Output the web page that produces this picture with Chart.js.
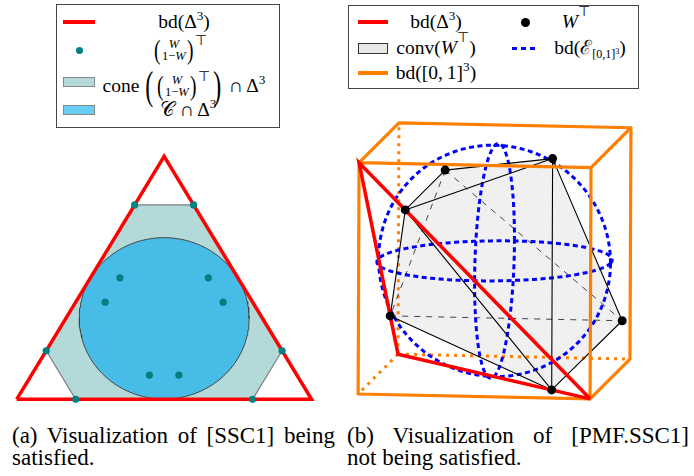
<!DOCTYPE html>
<html>
<head>
<meta charset="utf-8">
<script src="https://cdn.jsdelivr.net/npm/chart.js@4.4.1/dist/chart.umd.min.js"></script>
<style>
  body { margin: 0; width: 694px; height: 476px; background: #fff; position: relative; overflow: hidden;
         font-family: "Liberation Serif", "Times New Roman", serif; color: #000; }
  canvas { position: absolute; }
  #leftChart { left: 0; top: 130px; }
  #rightChart { left: 340px; top: 95px; }
  .box { position: absolute; border: 1px solid #444; box-sizing: border-box; }
  .sw { position: absolute; box-sizing: border-box; }
  .dot { position: absolute; border-radius: 50%; }
  .lbl { position: absolute; transform: translate(-50%, -50%); white-space: nowrap; font-size: 19.5px; line-height: 1;
         display: inline-flex; align-items: center; }
  .lbl sup { font-size: 0.68em; position: relative; top: -0.45em; vertical-align: baseline; line-height: 0; }
  .mat { display: inline-flex; align-items: center; }
  .par { font-size: 28px; line-height: 1; display: inline-block; transform: scaleX(0.7); }
  .bigpar { font-size: 40px; line-height: 1; display: inline-block; transform: scaleX(0.6); }
  .stk { display: inline-flex; flex-direction: column; align-items: center; font-size: 12.5px; line-height: 12px; }
  .T { font-size: 14px; align-self: flex-start; margin-top: -3px; font-family: "DejaVu Sans", sans-serif; }
  .cap { position: absolute; font-size: 23px; line-height: 23px; white-space: nowrap; }
  .just { text-align: justify; text-align-last: justify; }
</style>
</head>
<body>
<canvas id="leftChart" width="340" height="285"></canvas>
<canvas id="rightChart" width="354" height="320"></canvas>

<!-- legend (a) -->
<div class="box" style="left:56px;top:4px;width:224px;height:124px"></div>
<div class="sw" style="left:63px;top:20px;width:32px;height:4px;background:#ff0000"></div>
<div class="lbl" style="left:184px;top:22px">bd(Δ<sup>3</sup>)</div>
<div class="dot" style="left:75.5px;top:46.5px;width:7px;height:7px;background:#008080"></div>
<div class="lbl" style="left:180px;top:50px"><span class="mat"><span class="par">(</span><span class="stk"><i>W</i><span>1−<i>W</i></span></span><span class="par">)</span><span class="T">⊤</span></span></div>
<div class="sw" style="left:63px;top:77px;width:32px;height:10px;background:#b3d9d9;border:1px solid #888"></div>
<div class="lbl" style="left:184px;top:86px">cone<span class="bigpar" style="margin-left:3px">(</span><span class="mat"><span class="par">(</span><span class="stk"><i>W</i><span>1−<i>W</i></span></span><span class="par">)</span><span class="T">⊤</span></span><span class="bigpar">)</span>&nbsp;∩ Δ<sup>3</sup></div>
<div class="sw" style="left:63px;top:105px;width:32px;height:10px;background:#66cdf5;border:1px solid #888"></div>
<div class="lbl" style="left:188px;top:110px">𝒞 ∩ Δ<sup>3</sup></div>

<!-- legend (b) -->
<div class="box" style="left:348px;top:5px;width:291px;height:84px"></div>
<div class="sw" style="left:358px;top:20px;width:30px;height:4px;background:#ff0000"></div>
<div class="lbl" style="left:436px;top:22px">bd(Δ<sup>3</sup>)</div>
<div class="dot" style="left:520.5px;top:17.5px;width:9px;height:9px;background:#000"></div>
<div class="lbl" style="left:576px;top:22px"><i>W</i><span class="T" style="margin-top:-8px">⊤</span></div>
<div class="sw" style="left:358px;top:43px;width:30px;height:11px;background:#e8e8e8;border:1px solid #333"></div>
<div class="lbl" style="left:436px;top:48px">conv(<i>W</i><span class="T" style="margin-top:-8px">⊤</span>)</div>
<div class="sw" style="left:512px;top:46.5px;width:27px;height:3px;background:repeating-linear-gradient(90deg,#0000ff 0 5px,transparent 5px 9px)"></div>
<div class="lbl" style="left:590px;top:48px">bd(ℰ<span style="font-size:12px;position:relative;top:6px">[0,1]<sup>3</sup></span>)</div>
<div class="sw" style="left:358px;top:71px;width:30px;height:4px;background:#ff8000"></div>
<div class="lbl" style="left:436px;top:73px">bd([0,&#8201;1]<sup>3</sup>)</div>

<!-- captions -->
<div class="cap just" style="left:12px;top:424px;width:323px">(a) Visualization of [SSC1] being</div>
<div class="cap" style="left:12px;top:446px">satisfied.</div>
<div class="cap just" style="left:347px;top:424px;width:342px">(b) Visualization of [PMF.SSC1]</div>
<div class="cap" style="left:347px;top:446px">not being satisfied.</div>

<script>
// (a) points of the simplex, barycentric (a, b, c)
const simplexVertices = [[1, 0, 0], [0, 1, 0], [0, 0, 1]];
const conePoints = [[0.8, 0, 0.2], [0.2, 0, 0.8], [0, 0.2, 0.8], [0, 0.8, 0.2], [0.2, 0.8, 0], [0.8, 0.2, 0]];
const innerPoints = [[0.5, 0.1, 0.4], [0.4, 0.1, 0.5], [0.1, 0.4, 0.5], [0.1, 0.5, 0.4], [0.4, 0.5, 0.1], [0.5, 0.4, 0.1]];
const coneUpper = [0, 1, 2, 3];
const coneLower = [0, 5, 4, 3];
const circleCenter = [1 / 3, 1 / 3, 1 / 3];
const circleRadii = [0.288, 0.332];

// (b) oblique view of [0,1]^3 : where one unit step along each axis lands
const viewX = [1.0, -0.021];
const viewY = [0.172, 0.172];
const viewZ = [0.004, 1.0];
const cubeCorners = [[0, 0, 0], [1, 0, 0], [0, 1, 0], [0, 0, 1], [1, 1, 0], [1, 0, 1], [0, 1, 1], [1, 1, 1]];
const cubeEdges = [[0, 1], [1, 5], [5, 3], [3, 0], [3, 6], [6, 7], [7, 5], [7, 4], [4, 1]];
const cubeHiddenEdges = [[2, 0], [2, 4], [2, 6]];
const wRows = [[0.2, 0, 0.8], [0.2, 1, 0.8], [0.8, 0.2, 1], [0.8, 0.2, 0], [0, 0.8, 0.2], [1, 0.8, 0.2]];
const hullEdges = [[0, 1], [0, 2], [1, 2], [2, 3], [2, 5], [5, 3], [0, 4], [4, 3], [0, 3]];
const hullHiddenEdges = [[1, 4], [1, 5], [4, 5]];
const hullUpper = [4, 0, 1, 2, 5];
const hullLower = [4, 3, 5];
const sphereCenter = [0.5, 0.5, 0.5];
const sphereRadius = 0.5;

function bary(p) {
    return {x: p[1] + p[2] / 2, y: p[2]};
}

function view(p) {
    return {
        x: p[0] * viewX[0] + p[1] * viewY[0] + p[2] * viewZ[0],
        y: p[0] * viewX[1] + p[1] * viewY[1] + p[2] * viewZ[1]
    };
}

// pairs of points, split by gaps so they are drawn as separate strokes
function segments(points, edges) {
    const out = [];
    edges.forEach(([i, j]) => {
        out.push(points[i], points[j], {x: NaN, y: NaN});
    });
    return out;
}

function ellipse(c, u, v, from, to, steps) {
    const pts = [];
    for (let k = 0; k <= steps; k++) {
        const t = from + (to - from) * k / steps;
        pts.push({x: c.x + u.x * Math.cos(t) + v.x * Math.sin(t), y: c.y + u.y * Math.cos(t) + v.y * Math.sin(t)});
    }
    return pts;
}

function lineSet(data, opts) {
    return Object.assign({
        data: data, showLine: true, pointRadius: 0, borderWidth: 1, borderColor: '#000',
        tension: 0, fill: false, clip: false, spanGaps: false
    }, opts);
}

function makeChart(id, datasets, xRange, yRange) {
    const n = datasets.length;
    datasets.forEach((d, i) => { d.order = n - i; }); // first in list is drawn at the bottom
    return new Chart(document.getElementById(id), {
        type: 'scatter',
        data: {datasets: datasets},
        options: {
            responsive: false,
            animation: false,
            devicePixelRatio: 1,
            events: [],
            layout: {padding: 0},
            plugins: {legend: {display: false}, tooltip: {enabled: false}},
            scales: {
                x: {type: 'linear', display: false, min: xRange[0], max: xRange[1]},
                y: {type: 'linear', display: false, min: yRange[0], max: yRange[1]}
            }
        }
    });
}

// ---- (a) ----
const cone2d = conePoints.map(bary);
const c0 = bary(circleCenter);
const leftSets = [
    lineSet(coneUpper.map(i => cone2d[i]), {fill: '+1', backgroundColor: '#b3d9d9', borderColor: '#7f7f7f', borderWidth: 1.2}),
    lineSet(coneLower.map(i => cone2d[i]), {borderColor: '#7f7f7f', borderWidth: 1.2}),
    lineSet(ellipse(c0, {x: circleRadii[0], y: 0}, {x: 0, y: circleRadii[1]}, Math.PI, 0, 90),
        {fill: '+1', backgroundColor: 'rgb(71,188,230)', borderColor: '#454545', borderWidth: 1}),
    lineSet(ellipse(c0, {x: circleRadii[0], y: 0}, {x: 0, y: circleRadii[1]}, Math.PI, 2 * Math.PI, 90),
        {borderColor: '#454545', borderWidth: 1}),
    lineSet(simplexVertices.concat([simplexVertices[0]]).map(bary), {borderColor: '#ff0000', borderWidth: 3.5}),
    {data: conePoints.concat(innerPoints).map(bary), pointRadius: 3.6, pointBackgroundColor: '#008080',
        pointBorderWidth: 0, clip: false}
];
makeChart('leftChart', leftSets, [-13 / 302, 327 / 302], [-12 / 250, 273 / 250]);

// ---- (b) ----
const cube2d = cubeCorners.map(view);
const w2d = wRows.map(view);
const sc = view(sphereCenter);
const ax = view([sphereRadius, 0, 0]), ay = view([0, sphereRadius, 0]), az = view([0, 0, sphereRadius]);
const blueDash = {borderColor: '#0000ff', borderWidth: 3, borderDash: [5, 3.5]};
const rightSets = [
    lineSet(hullUpper.map(i => w2d[i]), {fill: '+1', backgroundColor: '#f0f0f0', borderWidth: 0}),
    lineSet(hullLower.map(i => w2d[i]), {borderWidth: 0}),
    lineSet(segments(cube2d, cubeHiddenEdges), {borderColor: '#ff8000', borderWidth: 3, borderDash: [3, 5]}),
    lineSet(segments(w2d, hullHiddenEdges), {borderColor: '#444', borderWidth: 1, borderDash: [6, 6]}),
    lineSet(ellipse(sc, ax, az, 0, 2 * Math.PI, 160), blueDash),
    lineSet(ellipse(sc, ax, ay, 0, 2 * Math.PI, 160), blueDash),
    lineSet(ellipse(sc, ay, az, 0, 2 * Math.PI, 160), blueDash),
    lineSet(segments(w2d, hullEdges), {borderColor: '#000', borderWidth: 1.1}),
    lineSet(segments(cube2d, cubeEdges), {borderColor: '#ff8000', borderWidth: 3.2, borderCapStyle: 'round'}),
    lineSet(simplexVertices.concat([simplexVertices[0]]).map(view), {borderColor: '#ff0000', borderWidth: 3.5}),
    {data: w2d, pointRadius: 4.5, pointBackgroundColor: '#000', pointBorderWidth: 0, clip: false}
];
makeChart('rightChart', rightSets, [-14 / 238, 340 / 238], [-17 / 238, 303 / 238]);
</script>
</body>
</html>
